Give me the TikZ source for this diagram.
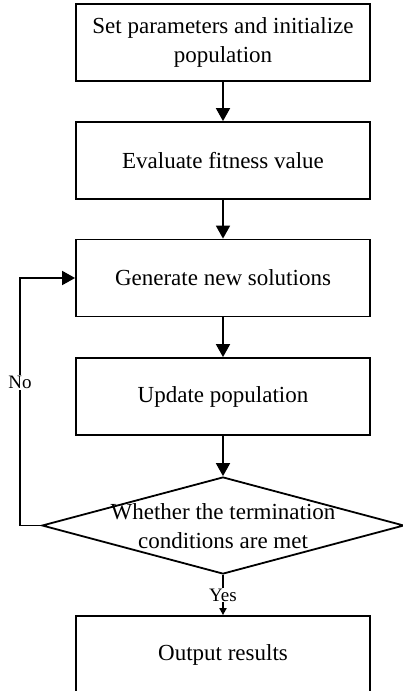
\documentclass[tikz,border=0pt]{standalone}
\usepackage{fontspec}
\setmainfont{Liberation Serif}
\usetikzlibrary{arrows.meta,shapes.geometric}
\begin{document}
\begin{tikzpicture}[x=1pt,y=-1pt,
  box/.style={draw,line width=1.8pt,minimum width=294pt,minimum height=77pt,inner sep=0pt,align=center,font=\fontsize{23}{28.5}\selectfont},
  arr/.style={line width=1.8pt,-{Triangle[width=14pt,length=13pt]}},
  lbl/.style={fill=white,inner sep=1pt,font=\fontsize{19}{22}\selectfont}]
\clip (0,0) rectangle (403,691);
\node[box] (b1) at (223,42.5) {Set parameters and initialize\\population};
\node[box] (b2) at (223,160.5) {Evaluate fitness value};
\node[box] (b3) at (223,278) {Generate new solutions};
\node[box] (b4) at (223,396.5) {Update population};
\node[draw,diamond,line width=1.8pt,minimum width=362pt,minimum height=97pt,inner sep=0pt] (dec) at (223,525.5) {};
\node[align=center,font=\fontsize{23}{28.5}\selectfont] (dect) at (223,526) {Whether the termination\\conditions are met};
\node[box,minimum height=78pt] (out) at (223,655) {Output results};
\coordinate (lc) at (20,525.5);
\coordinate (lt) at (20,278);
\draw[arr] (b1.south) -- (b2.north);
\draw[arr] (b2.south) -- (b3.north);
\draw[arr] (b3.south) -- (b4.north);
\draw[arr] (b4.south) -- (dec.north);
\draw[line width=1.8pt,-{Triangle[width=7pt,length=7pt]}] (dec.south) -- node[lbl] {Yes} (out.north);
\draw[arr] (dec.west) -- (lc) -- node[lbl,pos=0.577] {No} (lt) -- (b3.west);
\end{tikzpicture}
\end{document}
